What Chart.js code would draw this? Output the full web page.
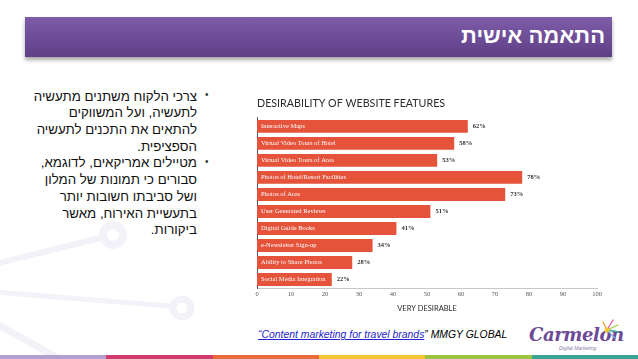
<!DOCTYPE html>
<html>
<head>
<meta charset="utf-8">
<script src="https://cdn.jsdelivr.net/npm/chart.js@4/dist/chart.umd.min.js"></script>
<style>
  body { margin: 0; width: 638px; height: 359px; overflow: hidden; background: #fff; position: relative; font-family: "Liberation Sans", Arial, sans-serif; }
  #bg { position: absolute; left: 0; top: 0; }
  #header { position: absolute; left: 25px; top: 17px; width: 587px; height: 40px;
    background: linear-gradient(#7e5ca9, #5f3f86); box-shadow: 0 3px 4px rgba(0,0,0,0.35); }
  #header span { position: absolute; right: 7px; top: 6px; color: #fff; font-weight: bold; font-size: 22px; direction: rtl; }
  #bullets { position: absolute; right: 441px; top: 88.6px; width: 175px; direction: rtl; text-align: right;
    font-size: 13.3px; line-height: 16.7px; color: #111; }
  .dot { position: absolute; left: 205px; font-size: 10px; color: #333; }
  #chartBox { position: absolute; left: 245px; top: 88px; }
  #cite { position: absolute; left: 258px; top: 329px; font-size: 10.4px; font-style: italic; color: #000; white-space: nowrap; }
  #cite a { color: #2424c8; text-decoration: underline; }
  #logo { position: absolute; left: 529px; top: 324px; }
  #logo .name { font-family: "DejaVu Serif", serif; font-style: italic; font-weight: bold; font-size: 18px; color: #6c4a96; letter-spacing: -0.4px; }
  #logo .sub { position: absolute; left: 30px; top: 21px; font-size: 5px; font-style: italic; color: #8d7aa8; white-space: nowrap; }
  #strip { position: absolute; left: 0; top: 355px; width: 638px; height: 4px; display: flex; }
  #strip div { flex: 1; }
</style>
</head>
<body>
<svg id="bg" width="638" height="359">
  <g stroke="#f3f2f8" fill="none" stroke-linecap="round">
    <line x1="-5" y1="264" x2="100" y2="238" stroke-width="6"/>
    <circle cx="113" cy="235" r="10" stroke-width="8"/>
    <line x1="-5" y1="292" x2="170" y2="306" stroke-width="5"/>
    <circle cx="182" cy="308" r="9" stroke-width="7"/>
    <line x1="-5" y1="323" x2="70" y2="365" stroke-width="7"/>
  </g>
</svg>

<div id="header"><span>התאמה אישית</span></div>

<div id="bullets">
  צרכי הלקוח משתנים מתעשיה<br>לתעשיה, ועל המשווקים<br>להתאים את התכנים לתעשיה<br>הספציפית.<br>
  מטיילים אמריקאים, לדוגמא,<br>סבורים כי תמונות של המלון<br>ושל סביבתו חשובות יותר<br>בתעשיית האירוח, מאשר<br>ביקורות.
</div>
<span class="dot" style="top:89px">•</span>
<span class="dot" style="top:156px">•</span>

<div id="chartBox"><canvas id="chart" width="380" height="225"></canvas></div>

<div id="cite"><a>“Content marketing for travel brands</a>” MMGY GLOBAL</div>

<div id="logo">
  <span class="name">Carmelon</span>
  <span class="sub">Digital Marketing</span>
  <svg style="position:absolute;left:70px;top:-8px" width="22" height="28">
    <g stroke-width="1.3" stroke-linecap="round">
      <line x1="8" y1="14" x2="14" y2="4" stroke="#e0569a"/>
      <line x1="8" y1="14" x2="19" y2="9" stroke="#9bc53f"/>
      <line x1="8" y1="14" x2="20" y2="16" stroke="#3aa59a"/>
      <line x1="8" y1="14" x2="16" y2="22" stroke="#7fb6e0"/>
      <line x1="8" y1="14" x2="4" y2="6" stroke="#f2a130"/>
    </g>
    <circle cx="8" cy="14" r="2.5" fill="#f2c430"/>
  </svg>
</div>

<div id="strip">
  <div style="background:#b39fd0"></div>
  <div style="background:#cf3b6e"></div>
  <div style="background:#ea6a3a"></div>
  <div style="background:#f3c532"></div>
  <div style="background:#9cc43f"></div>
  <div style="background:#38a596"></div>
</div>

<script>
const categories = ['Interactive Maps', 'Virtual Video Tours of Hotel', 'Virtual Video Tours of Area',
  'Photos of Hotel/Resort Facilities', 'Photos of Area', 'User Generated Reviews', 'Digital Guide Books',
  'e-Newsletter Sign-up', 'Ability to Share Photos', 'Social Media Integration'];
const desirability = [62, 58, 53, 78, 73, 51, 41, 34, 28, 22];
const xTicks = [0, 10, 20, 30, 40, 50, 60, 70, 80, 90, 100];

// category names inside the bars, percentages after them
const barLabels = {
  id: 'barLabels',
  afterDatasetsDraw(chart) {
    const ctx = chart.ctx;
    const meta = chart.getDatasetMeta(0);
    ctx.save();
    ctx.textBaseline = 'middle';
    meta.data.forEach((bar, i) => {
      ctx.font = '6.5px "Liberation Serif", serif';
      ctx.fillStyle = '#ffffff';
      ctx.textAlign = 'left';
      ctx.fillText(chart.data.labels[i], chart.chartArea.left + 4, bar.y);
      ctx.font = 'bold 6.5px "Liberation Serif", serif';
      ctx.fillStyle = '#333333';
      ctx.fillText(chart.data.datasets[0].data[i] + '%', bar.x + 5, bar.y);
    });
    ctx.restore();
  }
};

new Chart(document.getElementById('chart'), {
  type: 'bar',
  data: {
    labels: categories,
    datasets: [{
      data: desirability,
      backgroundColor: '#e5533a',
      barPercentage: 0.76,
      categoryPercentage: 1
    }]
  },
  options: {
    indexAxis: 'y',
    responsive: false,
    devicePixelRatio: 1,
    animation: false,
    layout: { padding: { left: 12, right: 28, top: 0, bottom: 0 } },
    plugins: {
      legend: { display: false },
      tooltip: { enabled: false },
      title: {
        display: true,
        text: 'DESIRABILITY OF WEBSITE FEATURES',
        align: 'start',
        color: '#2b2b2b',
        font: { family: 'Lato', size: 10.7, weight: 'normal' },
        padding: { top: 9, bottom: 8 }
      }
    },
    scales: {
      x: {
        min: 0,
        max: 100,
        afterBuildTicks: scale => { scale.ticks = xTicks.map(v => ({ value: v })); },
        afterFit: scale => { scale.height = 25; },
        grid: { display: false, drawTicks: false },
        border: { display: true, color: '#c8c8c8', width: 1 },
        ticks: { color: '#555', padding: 2, font: { family: '"Liberation Serif", serif', size: 6.5 } },
        title: {
          display: true,
          text: 'VERY DESIRABLE',
          color: '#2b2b2b',
          font: { family: 'Lato', size: 7.5 },
          padding: { top: 0, bottom: 0 }
        }
      },
      y: {
        afterFit: scale => { scale.width = 0; },
        grid: { display: false },
        border: { display: true, color: '#555', width: 1 },
        ticks: { display: false }
      }
    }
  },
  plugins: [barLabels]
});
</script>
</body>
</html>
